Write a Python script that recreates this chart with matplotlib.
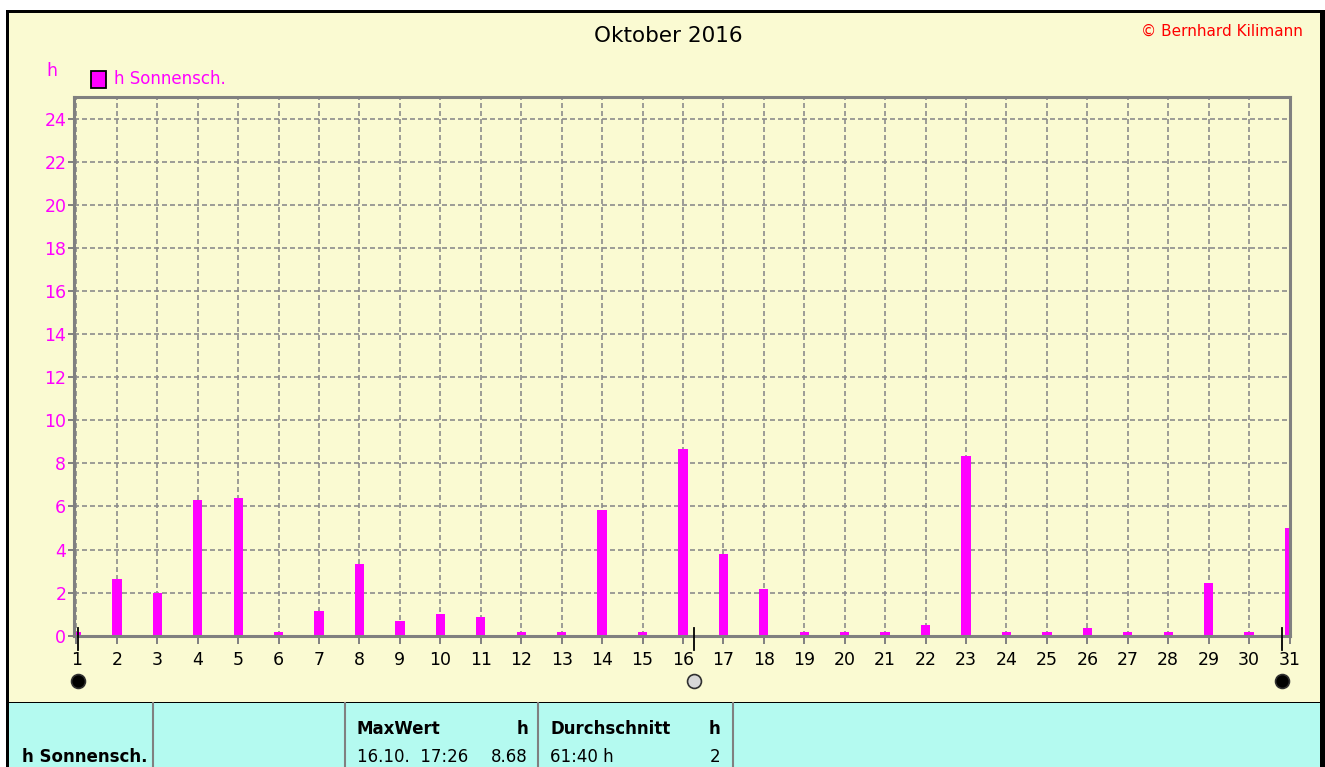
import numpy as np
import matplotlib
matplotlib.use('Agg')
import matplotlib.pyplot as plt
from matplotlib.patches import Rectangle

# Sonnenscheindauer pro Tag, Oktober 2016 [h]
days = np.arange(1, 32)
sun_h = [0.0, 2.65, 2.0, 6.3, 6.4, 0.0, 1.15, 3.35, 0.7, 1.0,
         0.85, 0.0, 0.0, 5.85, 0.0, 8.68, 3.8, 2.15, 0.0, 0.15,
         0.0, 0.5, 8.35, 0.0, 0.0, 0.35, 0.0, 0.0, 2.45, 0.0, 5.0]
yticks = np.arange(0, 25, 2)

# Mondphasen (Tag + Bruchteil)
moon_days = [1.05, 16.27, 30.82]
moon_fill = ['black', '#d8d8d8', 'black']

title = 'Oktober 2016'
copyright_txt = '\u00a9 Bernhard Kilimann'
series = 'h Sonnensch.'
max_when, max_val = '16.10.  17:26', '8.68'
avg_sum, avg_val = '61:40 h', '2'

W, H = 1325, 767
yellow = '#fafad2'
cyan = '#b4faf0'
magenta = '#ff00ff'
grey = '#808080'

plt.rcParams['font.family'] = ['DejaVu Sans']

fig = plt.figure(figsize=(W / 100, H / 100), dpi=100, facecolor='white')

def px(x0, y0, x1, y1):
    # Pixelrechteck (oben links) -> Figurkoordinaten
    return (x0 / W, 1 - y1 / H), (x1 - x0) / W, (y1 - y0) / H

# Hintergrund und Rahmen
for (x0, y0, x1, y1), c in [((6, 10, W, H), 'black'),
                            ((9, 13, 1320, 701.5), yellow),
                            ((9, 703, 1320, H), cyan)]:
    xy, w, h = px(x0, y0, x1, y1)
    fig.patches.append(Rectangle(xy, w, h, transform=fig.transFigure,
                                 facecolor=c, edgecolor='none', zorder=-10))

ax = fig.add_axes([74 / W, 1 - 635.7 / H, 1215.5 / W, 538.4 / H])
ax.set_facecolor(yellow)
ax.set_xlim(0.94, 31)
ax.set_ylim(0, 25)

ax.bar(days, np.maximum(sun_h, 0.15), width=0.23, color=magenta,
       edgecolor='none', zorder=3)

ax.set_xticks(days)
ax.set_yticks(yticks)
ax.grid(True, color='#8c8c8c', linestyle=(0, (3.0, 1.8)), linewidth=1.2,
        zorder=1)
for s in ax.spines.values():
    s.set_color(grey)
    s.set_linewidth(2.2)
    s.set_zorder(4)

ax.tick_params(axis='x', direction='out', length=6, width=1.4, color=grey,
               labelsize=12.5, labelcolor='black', pad=5)
ax.tick_params(axis='y', direction='out', length=4.5, width=1.4, color=grey,
               labelsize=12.5, labelcolor=magenta, pad=1)

# Mondphasen
tr = ax.get_xaxis_transform()
for d, c in zip(moon_days, moon_fill):
    ax.plot([d, d], [0.0144, -0.0266], color='black', lw=1.3,
            transform=tr, clip_on=False, zorder=5)
    ax.plot(d, -0.084, marker='o', markersize=10, markerfacecolor=c,
            markeredgecolor='#303030', markeredgewidth=1.2,
            transform=tr, clip_on=False, zorder=5)

# Titel, Copyright, Einheit, Legende
fig.text(668 / W, 1 - 36 / H, title, ha='center', va='center', fontsize=15.5)
fig.text(1303 / W, 1 - 31 / H, copyright_txt, ha='right', va='center',
         fontsize=11, color='red')
fig.text(52 / W, 1 - 71 / H, 'h', ha='center', va='center', fontsize=12.5,
         color=magenta)
xy, w, h = px(91, 71, 106, 88)
fig.patches.append(Rectangle(xy, w, h, transform=fig.transFigure,
                             facecolor=magenta, edgecolor='black', lw=1.3))
fig.text(114 / W, 1 - 79 / H, series, ha='left', va='center', fontsize=12,
         color=magenta)

# Tabelle unten
for xs in [152.5, 345, 538, 733]:
    fig.add_artist(plt.Line2D([xs / W, xs / W], [0, 1 - 703 / H],
                              transform=fig.transFigure, color=grey, lw=1.5))
fig.text(22 / W, 1 - 757 / H, series, ha='left', va='center', fontsize=12,
         fontweight='bold')
fig.text(357 / W, 1 - 729 / H, 'MaxWert', ha='left', va='center',
         fontsize=12, fontweight='bold')
fig.text(528 / W, 1 - 729 / H, 'h', ha='right', va='center', fontsize=12,
         fontweight='bold')
fig.text(357 / W, 1 - 757 / H, max_when, ha='left', va='center', fontsize=12)
fig.text(528 / W, 1 - 757 / H, max_val, ha='right', va='center', fontsize=12)
fig.text(550 / W, 1 - 729 / H, 'Durchschnitt', ha='left', va='center',
         fontsize=12, fontweight='bold')
fig.text(720 / W, 1 - 729 / H, 'h', ha='right', va='center', fontsize=12,
         fontweight='bold')
fig.text(550 / W, 1 - 757 / H, avg_sum, ha='left', va='center', fontsize=12)
fig.text(720 / W, 1 - 757 / H, avg_val, ha='right', va='center', fontsize=12)

fig.savefig('out.png', dpi=100, facecolor=fig.get_facecolor())
